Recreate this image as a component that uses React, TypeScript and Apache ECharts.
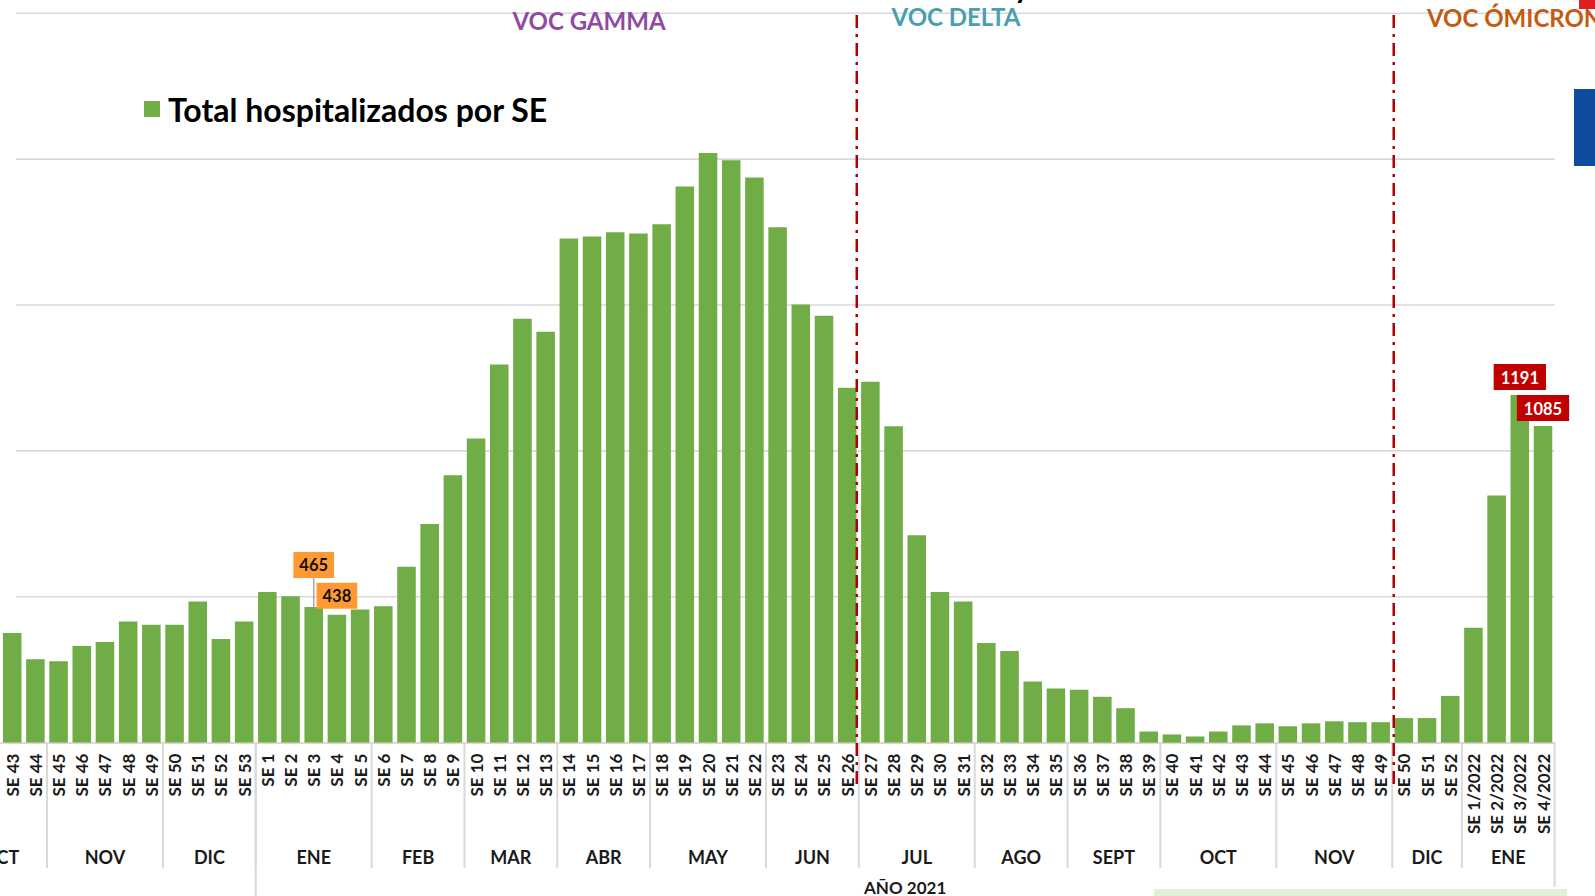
import React, { useEffect, useRef } from 'react';
import * as echarts from 'echarts';

const weekLabels = [
  'SE 43', 'SE 44', 'SE 45', 'SE 46', 'SE 47', 'SE 48', 'SE 49', 'SE 50', 'SE 51', 'SE 52', 'SE 53',
  'SE 1', 'SE 2', 'SE 3', 'SE 4', 'SE 5', 'SE 6', 'SE 7', 'SE 8', 'SE 9', 'SE 10',
  'SE 11', 'SE 12', 'SE 13', 'SE 14', 'SE 15', 'SE 16', 'SE 17', 'SE 18', 'SE 19', 'SE 20',
  'SE 21', 'SE 22', 'SE 23', 'SE 24', 'SE 25', 'SE 26', 'SE 27', 'SE 28', 'SE 29', 'SE 30',
  'SE 31', 'SE 32', 'SE 33', 'SE 34', 'SE 35', 'SE 36', 'SE 37', 'SE 38', 'SE 39', 'SE 40',
  'SE 41', 'SE 42', 'SE 43', 'SE 44', 'SE 45', 'SE 46', 'SE 47', 'SE 48', 'SE 49', 'SE 50',
  'SE 51', 'SE 52', 'SE 1/2022', 'SE 2/2022', 'SE 3/2022', 'SE 4/2022',
];

const hospitalized = [
  376, 286, 279, 331, 345, 415, 404, 404, 484, 355, 415,
  516, 502, 465, 438, 456, 467, 603, 749, 916, 1042,
  1296, 1453, 1408, 1728, 1735, 1749, 1745, 1777, 1906, 2021,
  1996, 1937, 1766, 1502, 1463, 1216, 1237, 1084, 711, 516,
  484, 341, 314, 209, 185, 181, 157, 118, 38, 28,
  21, 38, 59, 66, 56, 66, 73, 70, 70, 84,
  84, 160, 394, 847, 1191, 1085,
];

const monthNames = ['OCT', 'NOV', 'DIC', 'ENE', 'FEB', 'MAR', 'ABR', 'MAY', 'JUN', 'JUL', 'AGO', 'SEPT', 'OCT', 'NOV', 'DIC', 'ENE'];
const monthWeekCounts = [2, 5, 4, 5, 4, 4, 4, 5, 4, 5, 4, 4, 5, 5, 3, 4];
const weeksHiddenBeforeFirstMonth = 2;

const yTicks = [0, 500, 1000, 1500, 2000, 2500];
const seriesName = 'Total hospitalizados por SE';
const yearLabel = 'AÑO 2021';
const yearStartWeekIndex = 11; // SE 1 of 2021
const yearLabelBoundary = 39;
const vocLabels = ['VOC GAMMA', 'VOC DELTA', 'VOC ÓMICRON'];
const vocBoundaries = [37, 60]; // Delta starts at SE 27, Ómicron at SE 50
const orangeCallouts = [13, 14];
const redCallouts = [65, 66];

const FONT = 'Lato';

export default function App() {
  const ref = useRef<HTMLDivElement>(null);

  useEffect(() => {
    const chart = echarts.init(ref.current!, null, { renderer: 'svg' });

    const orangeBox = {
      show: true,
      position: 'top',
      backgroundColor: '#ff9933',
      color: '#111',
      fontFamily: FONT,
      fontWeight: 'bold',
      fontSize: 16.5,
      lineHeight: 19,
      padding: [4, 6, 3, 6],
    };
    const redBox = { ...orangeBox, backgroundColor: '#c00000', color: '#fff', padding: [4, 7, 3, 7] };

    const data = hospitalized.map((v, i) => {
      if (i === orangeCallouts[0]) return { value: v, label: { ...orangeBox, distance: 29 } };
      if (i === orangeCallouts[1]) return { value: v, label: { ...orangeBox, distance: 6 } };
      if (redCallouts.includes(i)) return { value: v, label: { ...redBox, distance: 5 } };
      return v;
    });

    chart.setOption({
      animation: false,
      grid: { left: 0.6, right: 40.4, top: 13.2, bottom: 153.4 },
      legend: {
        show: true,
        data: [seriesName],
        left: 139,
        top: 88,
        icon: 'rect',
        itemWidth: 16,
        itemHeight: 16,
        textStyle: { fontFamily: FONT, fontWeight: 'bold', fontSize: 32, color: '#000', padding: [0, 0, 0, 3] },
      },
      xAxis: {
        type: 'category',
        data: weekLabels,
        axisTick: { show: false },
        axisLine: { lineStyle: { color: '#d9d9d9', width: 2 } },
        axisLabel: {
          interval: 0,
          rotate: 90,
          margin: 11,
          fontFamily: FONT,
          fontWeight: 'bold',
          fontSize: 17,
          color: '#1a1a1a',
          formatter: (_v: string, i: number) => weekLabels[i],
        },
      },
      yAxis: {
        type: 'value',
        min: yTicks[0],
        max: yTicks[yTicks.length - 1],
        interval: 500,
        axisLabel: { show: false },
        axisLine: { show: false },
        axisTick: { show: false },
        splitLine: { show: false },
      },
      series: [
        {
          type: 'bar',
          name: seriesName,
          data,
          barCategoryGap: '20%',
          itemStyle: { color: '#70ad47' },
        },
      ],
    });

    const pt = (i: number, v: number) => chart.convertToPixel({ gridIndex: 0 }, [i, v]) as number[];
    const x0 = pt(0, 0)[0];
    const cw = pt(1, 0)[0] - x0;
    const bx = (b: number) => x0 + (b - 0.5) * cw;
    const baseY = pt(0, 0)[1];
    const n = hospitalized.length;

    const g: any[] = [];
    // gridlines
    yTicks.slice(1).forEach((t) => {
      const y = pt(0, t)[1];
      g.push({ type: 'line', z: -1, shape: { x1: 16, y1: y, x2: bx(n), y2: y }, style: { stroke: '#d9d9d9', lineWidth: 1.6 } });
    });

    // month separators and labels
    let start = -weeksHiddenBeforeFirstMonth;
    monthNames.forEach((m, k) => {
      const s = k === 0 ? -weeksHiddenBeforeFirstMonth : start;
      const e = k === 0 ? monthWeekCounts[0] : start + monthWeekCounts[k];
      const cx = (bx(s) + bx(e)) / 2;
      g.push({ type: 'text', x: cx, y: 856.5, style: { text: m, fontFamily: FONT, fontWeight: 'bold', fontSize: 18, fill: '#1a1a1a', align: 'center', verticalAlign: 'middle' } });
      const yEnd = e === n ? 887 : 868;
      g.push({ type: 'line', shape: { x1: bx(e), y1: baseY, x2: bx(e), y2: yEnd }, style: { stroke: '#d9d9d9', lineWidth: 2 } });
      start = e;
    });
    // year separator
    g.push({ type: 'line', shape: { x1: bx(yearStartWeekIndex), y1: baseY, x2: bx(yearStartWeekIndex), y2: 896 }, style: { stroke: '#d9d9d9', lineWidth: 2 } });
    g.push({ type: 'text', x: bx(yearLabelBoundary), y: 887, style: { text: yearLabel, fontFamily: FONT, fontWeight: 'bold', fontSize: 17, fill: '#1a1a1a', align: 'center', verticalAlign: 'middle' } });

    // VOC lines
    const vocLineShift = [-2, 1.5];
    vocBoundaries.forEach((b, k) => {
      const x = bx(b) + vocLineShift[k];
      g.push({ type: 'line', z: 10, shape: { x1: x, y1: 15, x2: x, y2: 790 }, style: { stroke: '#b00000', lineWidth: 2.5, lineDash: [13, 6, 3, 6] } });
    });
    // VOC titles
    g.push({ type: 'text', x: 589, y: 20, style: { text: vocLabels[0], fontFamily: FONT, fontWeight: 'bold', fontSize: 24, fill: '#8f4aa3', align: 'center', verticalAlign: 'middle' } });
    g.push({ type: 'text', x: 956, y: 16.5, style: { text: vocLabels[1], fontFamily: FONT, fontWeight: 'bold', fontSize: 24, fill: '#4a9fae', align: 'center', verticalAlign: 'middle' } });
    g.push({ type: 'text', x: 1427, y: 17, style: { text: vocLabels[2], fontFamily: FONT, fontWeight: 'bold', fontSize: 24, fill: '#c55a11', align: 'left', verticalAlign: 'middle' } });

    // leader line for first orange callout
    const lp = pt(orangeCallouts[0], hospitalized[orangeCallouts[0]]);
    g.push({ type: 'line', z: 5, shape: { x1: lp[0], y1: lp[1] - 29, x2: lp[0], y2: lp[1] }, style: { stroke: '#a6a6a6', lineWidth: 1.5 } });

    // decorative cropped elements
    g.push({ type: 'rect', shape: { x: 1574, y: 89, width: 21, height: 77 }, style: { fill: '#0f4c9e' } });
    g.push({ type: 'rect', shape: { x: 1579, y: 0, width: 16, height: 9 }, style: { fill: '#e02020' } });
    g.push({ type: 'rect', shape: { x: 1154, y: 889, width: 413, height: 7 }, style: { fill: '#e2efd9' } });
    g.push({ type: 'text', x: 1022, y: -14, style: { text: 'y', fontFamily: FONT, fontWeight: 'bold', fontSize: 30, fill: '#000', align: 'center', verticalAlign: 'middle' } });

    chart.setOption({ graphic: g });

    return () => chart.dispose();
  }, []);

  return <div ref={ref} style={{ position: 'fixed', left: 0, top: 0, width: 1595, height: 896, background: '#fff' }} />;
}
